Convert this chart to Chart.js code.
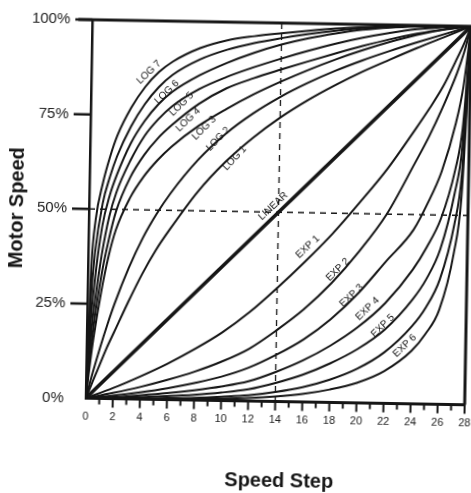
<!DOCTYPE html>
<html>
<head>
<meta charset="utf-8">
<script src="https://cdn.jsdelivr.net/npm/chart.js@4.4.1/dist/chart.umd.min.js"></script>
<style>
  html, body { margin: 0; padding: 0; background: #fff; overflow: hidden; }
  #wrap { width: 480px; height: 500px; transform: rotate(1deg); transform-origin: 278px 212px; }
</style>
</head>
<body>
<div id="wrap"><canvas id="chart" width="480" height="500"></canvas></div>
<script>
// ─── Data ─────────────────────────────────────────────────────

const logSteps = [0, 0.25, 0.5, 1, 1.5, 2, 3, 4, 5, 6, 8, 10, 12, 14, 16, 18, 20, 22, 24, 26, 28];
const expSteps = [0, 2, 4, 6, 8, 10, 12, 14, 16, 18, 20, 22, 24, 25, 26, 27, 27.5, 28];
const linearSteps = [0, 28];

const log8 = [0, 35, 47, 57, 64, 69.5, 77, 82.5, 86.5, 89.3, 93, 95.2, 96.4, 97.3, 98.1, 98.8, 99.3, 99.7, 99.9, 100, 100];
const log7 = [0, 26, 38.5, 51.5, 58.5, 64, 72, 78, 82.5, 85.8, 90, 92.7, 94.6, 96, 97.2, 98.2, 99, 99.5, 99.8, 100, 100];
const log6 = [0, 19, 30.5, 45.5, 53.5, 59, 67.5, 73.5, 78, 81.3, 85.8, 89.2, 92, 94.3, 96.1, 97.5, 98.6, 99.3, 99.7, 99.9, 100];
const log5 = [0, 14.5, 24, 38, 48, 54.5, 63, 69.5, 74, 77.5, 82.2, 85.5, 88.2, 90.6, 92.8, 94.8, 96.5, 97.9, 99, 99.7, 100];
const log4 = [0, 11, 19.5, 32.5, 42, 49.5, 58.5, 64.5, 69, 72.5, 78.3, 82.5, 85.3, 87.7, 90, 92.2, 94.3, 96.2, 97.8, 99.1, 100];
const log3 = [0, 8.5, 16, 28, 37.5, 44.5, 53, 58.8, 63.2, 66.8, 72.5, 77, 81, 84.5, 87.7, 90.6, 93.2, 95.5, 97.5, 99, 100];
const log2 = [0, 3.5, 7, 13.5, 19.5, 25, 34.5, 42.5, 49, 54.5, 63.5, 70.5, 76, 80.5, 84.3, 87.6, 90.5, 93.1, 95.5, 97.8, 100];
const log1 = [0, 2.2, 4.5, 9, 13.5, 17.5, 25.5, 33, 39.5, 45, 55, 63, 69.5, 75, 79.7, 83.8, 87.5, 90.8, 94, 97, 100];
const linear = [0, 100];
const exp1 = [0, 2.8, 6, 9.5, 13.5, 18, 23.5, 30, 37, 44.5, 53, 62, 72.5, 78, 84, 91.5, 95.5, 100];
const exp2 = [0, 1.5, 3.2, 5.2, 7.5, 10.3, 13.8, 18.8, 24.5, 31.5, 40, 50, 63.5, 70.5, 78.5, 87.5, 93, 100];
const exp3 = [0, 0.8, 1.8, 3, 4.5, 6.3, 8.8, 12.3, 16.5, 22, 29, 37.5, 46, 53, 61.5, 74.5, 84, 100];
const exp4 = [0, 0.4, 1, 1.7, 2.6, 3.7, 5.2, 7.8, 11, 15, 20, 26.5, 35.5, 41.5, 49, 62, 73, 100];
const exp5 = [0, 0.2, 0.5, 0.9, 1.4, 2.1, 3.1, 4.9, 7.2, 10.3, 14.2, 19.5, 27.5, 33, 41, 56, 68, 100];
const exp6 = [0, 0.1, 0.2, 0.4, 0.6, 1, 1.5, 2.5, 3.9, 6, 9, 13.5, 20.5, 25.5, 33, 47.5, 61, 100];
const exp7 = [0, 0, 0.1, 0.2, 0.3, 0.5, 0.8, 1.3, 2.1, 3.4, 5.3, 8.5, 14, 18.5, 25, 40, 55, 100];

const yTicks = [0, 25, 50, 75, 100];
const stepTicks = [0, 1, 2, 3, 4, 5, 6, 7, 8, 9, 10, 11, 12, 13, 14, 15, 16, 17, 18, 19, 20, 21, 22, 23, 24, 25, 26, 27, 28];

// curve labels, written along the curves
const labelTexts  = ['LOG 7', 'LOG 6', 'LOG 5', 'LOG 4', 'LOG 3', 'LOG 2', 'LOG 1', 'LINEAR', 'EXP 1', 'EXP 2', 'EXP 3', 'EXP 4', 'EXP 5', 'EXP 6'];
const labelSteps  = [4.25, 5.6, 6.7, 7.2, 8.4, 9.45, 10.7, 13.6, 16.2, 18.45, 19.5, 20.7, 21.85, 23.5];
const labelValues = [86.4, 81.2, 78.1, 74.0, 71.9, 69.1, 64.1, 51.6, 41.0, 35.1, 28.3, 24.9, 20.5, 15.3];
const labelAngles = [-45, -45, -45, -45, -46, -47, -48, -44, -44, -45, -45, -45, -45, -45];

// ─── Chart ────────────────────────────────────────────────────

const ink = '#161616';
const sans = '"Liberation Sans", Arial, Helvetica, sans-serif';

function series(label, steps, values, width) {
    return {
        label,
        data: steps.map((s, i) => ({ x: s, y: values[i] })),
        borderColor: ink,
        borderWidth: width,
        pointRadius: 0,
        fill: false,
        cubicInterpolationMode: 'monotone'
    };
}

const datasets = [
    series('LOG 8', logSteps, log8, 2),
    series('LOG 7', logSteps, log7, 2),
    series('LOG 6', logSteps, log6, 2),
    series('LOG 5', logSteps, log5, 2),
    series('LOG 4', logSteps, log4, 2),
    series('LOG 3', logSteps, log3, 2),
    series('LOG 2', logSteps, log2, 2),
    series('LOG 1', logSteps, log1, 2),
    series('LINEAR', linearSteps, linear, 3.6),
    series('EXP 1', expSteps, exp1, 2),
    series('EXP 2', expSteps, exp2, 2),
    series('EXP 3', expSteps, exp3, 2),
    series('EXP 4', expSteps, exp4, 2),
    series('EXP 5', expSteps, exp5, 2),
    series('EXP 6', expSteps, exp6, 2),
    series('EXP 7', expSteps, exp7, 2)
];

// dashed cross at step 14 / 50 %
const crossPlugin = {
    id: 'cross',
    beforeDatasetsDraw(chart) {
        const { ctx, chartArea: a, scales: { x, y } } = chart;
        ctx.save();
        ctx.strokeStyle = ink;
        ctx.lineWidth = 1.3;
        ctx.setLineDash([6, 5]);
        ctx.beginPath();
        ctx.moveTo(x.getPixelForValue(14), a.top);
        ctx.lineTo(x.getPixelForValue(14), a.bottom);
        ctx.moveTo(a.left, y.getPixelForValue(50));
        ctx.lineTo(a.right, y.getPixelForValue(50));
        ctx.stroke();
        ctx.restore();
    }
};

// frame, tick marks, curve names and the x title
const framePlugin = {
    id: 'frame',
    afterDatasetsDraw(chart) {
        const { ctx, chartArea: a, scales: { x, y } } = chart;
        ctx.save();
        ctx.strokeStyle = ink;
        ctx.lineCap = 'butt';

        ctx.lineWidth = 3;
        ctx.beginPath();
        ctx.moveTo(a.left - 14, y.getPixelForValue(100));
        ctx.lineTo(a.right + 1.5, y.getPixelForValue(100));
        ctx.moveTo(x.getPixelForValue(28), a.top);
        ctx.lineTo(x.getPixelForValue(28), a.bottom);
        ctx.stroke();

        ctx.lineWidth = 2.5;
        ctx.beginPath();
        yTicks.filter(v => v > 0).forEach(v => {
            ctx.moveTo(a.left - 17, y.getPixelForValue(v));
            ctx.lineTo(a.left, y.getPixelForValue(v));
        });
        ctx.stroke();

        ctx.lineWidth = 2;
        ctx.beginPath();
        stepTicks.filter(s => s > 0).forEach(s => {
            const px = x.getPixelForValue(s);
            ctx.moveTo(px, a.bottom);
            ctx.lineTo(px, a.bottom + (s % 2 === 0 ? 9 : 6));
        });
        ctx.stroke();

        ctx.fillStyle = ink;
        ctx.font = '10px ' + sans;
        ctx.textAlign = 'center';
        ctx.textBaseline = 'middle';
        labelTexts.forEach((t, i) => {
            ctx.save();
            ctx.translate(x.getPixelForValue(labelSteps[i]), y.getPixelForValue(labelValues[i]));
            ctx.rotate(labelAngles[i] * Math.PI / 180);
            ctx.fillText(t, 0, 0);
            ctx.restore();
        });

        ctx.font = 'bold 20px ' + sans;
        ctx.fillText('Speed Step', (a.left + a.right) / 2 + 5, 481);
        ctx.restore();
    }
};

new Chart(document.getElementById('chart'), {
    type: 'line',
    data: { datasets },
    plugins: [crossPlugin, framePlugin],
    options: {
        responsive: false,
        animation: false,
        layout: { padding: { top: 23, right: 12, left: 0, bottom: 0 } },
        plugins: { legend: { display: false }, tooltip: { enabled: false } },
        scales: {
            x: {
                type: 'linear',
                min: 0,
                max: 28,
                afterFit(s) { s.height = 98.5; s.paddingLeft = 0; s.paddingRight = 0; },
                afterBuildTicks(s) { s.ticks = stepTicks.map(v => ({ value: v })); },
                grid: { display: false, drawTicks: false },
                border: { color: ink, width: 3 },
                ticks: {
                    autoSkip: false,
                    maxRotation: 0,
                    padding: 12,
                    color: '#222',
                    font: { family: sans, size: 11 },
                    callback: v => (v % 2 === 0 ? String(v) : '')
                }
            },
            y: {
                min: 0,
                max: 100,
                afterFit(s) { s.width = 89; s.paddingTop = 0; s.paddingBottom = 0; },
                afterBuildTicks(s) { s.ticks = yTicks.map(v => ({ value: v })); },
                grid: { display: false, drawTicks: false },
                border: { color: ink, width: 2.5 },
                ticks: {
                    padding: 22,
                    color: '#222',
                    font: { family: sans, size: 15 },
                    callback: v => v + '%'
                },
                title: {
                    display: true,
                    text: 'Motor Speed',
                    color: ink,
                    font: { family: sans, size: 20, weight: 'bold' },
                    padding: { top: 5, bottom: 0 }
                }
            }
        }
    }
});
</script>
</body>
</html>
